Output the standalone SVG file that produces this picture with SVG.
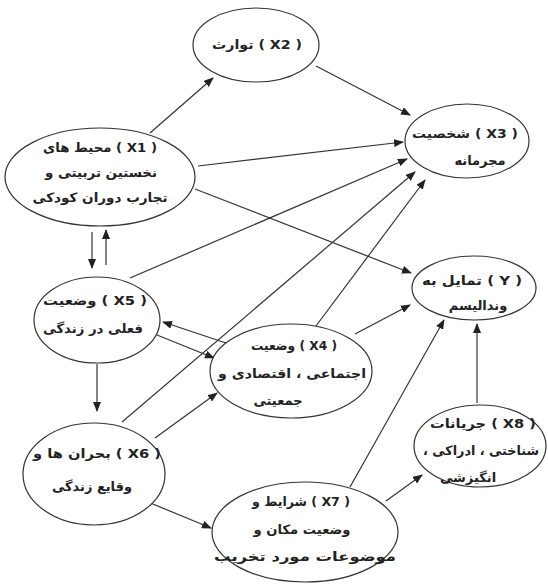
<svg xmlns="http://www.w3.org/2000/svg" width="548" height="587" viewBox="0 0 548 587">
<style>
.n{fill:#fff;stroke:#333;stroke-width:1.2}
.t{font-family:"DejaVu Sans","Noto Sans",sans-serif;font-size:13px;font-weight:bold;fill:#222;text-anchor:middle;direction:rtl}
.c line{stroke:#333;stroke-width:1.2;marker-end:url(#ah)}
</style>
<defs>
<marker id="ah" viewBox="0 0 10 8" refX="9" refY="4" markerWidth="10" markerHeight="8" markerUnits="userSpaceOnUse" orient="auto">
<path d="M0,0 L10,4 L0,8 z" fill="#222"/>
</marker>
</defs>
<rect width="548" height="587" fill="#fff"/>
<g id="connectors" class="c">
<line x1="150" y1="133" x2="213" y2="78"/>
<line x1="316" y1="66" x2="410" y2="115"/>
<line x1="198" y1="166" x2="403" y2="142"/>
<line x1="195" y1="189" x2="411" y2="273"/>
<line x1="130" y1="278" x2="407" y2="159"/>
<line x1="122" y1="422" x2="415" y2="172"/>
<line x1="316" y1="326" x2="425" y2="180"/>
<line x1="355" y1="334" x2="410" y2="305"/>
<line x1="226" y1="343" x2="163" y2="322"/>
<line x1="157" y1="335" x2="214" y2="358"/>
<line x1="92" y1="232" x2="92" y2="268"/>
<line x1="106" y1="265" x2="106" y2="230"/>
<line x1="97" y1="364" x2="97" y2="411"/>
<line x1="155" y1="438" x2="217" y2="393"/>
<line x1="148" y1="502" x2="211" y2="528"/>
<line x1="350" y1="487" x2="444" y2="320"/>
<line x1="386" y1="501" x2="422" y2="475"/>
<line x1="477" y1="403" x2="477" y2="324"/>
</g>
<g id="X2"><ellipse class="n" cx="256" cy="45" rx="63" ry="37"/>
<text class="t" x="257" y="49" textLength="90" lengthAdjust="spacingAndGlyphs">( X2 ) توارث</text></g>
<g id="X1"><ellipse class="n" cx="100" cy="177" rx="95" ry="49"/>
<text class="t" x="100" y="152" textLength="114" lengthAdjust="spacingAndGlyphs">( X1 ) محیط های</text>
<text class="t" x="101" y="177" textLength="112" lengthAdjust="spacingAndGlyphs">نخستین تربیتی و</text>
<text class="t" x="100" y="202" textLength="135" lengthAdjust="spacingAndGlyphs">تجارب دوران کودکی</text></g>
<g id="X3"><ellipse class="n" cx="467" cy="141" rx="62" ry="37"/>
<text class="t" x="465" y="138" textLength="106" lengthAdjust="spacingAndGlyphs">( X3 ) شخصیت</text>
<text class="t" x="480" y="165">مجرمانه</text></g>
<g id="Y"><ellipse class="n" cx="474" cy="288" rx="62" ry="32"/>
<text class="t" x="472" y="285" textLength="100" lengthAdjust="spacingAndGlyphs">( Y ) تمایل به</text>
<text class="t" x="478" y="310">وندالیسم</text></g>
<g id="X5"><ellipse class="n" cx="97" cy="320" rx="63" ry="43"/>
<text class="t" x="95" y="305" textLength="104" lengthAdjust="spacingAndGlyphs">( X5 ) وضعیت</text>
<text class="t" x="93" y="333" textLength="100" lengthAdjust="spacingAndGlyphs">فعلی در زندگی</text></g>
<g id="X4"><ellipse class="n" cx="291" cy="371" rx="81" ry="47"/>
<text class="t" x="294" y="350" textLength="86" lengthAdjust="spacingAndGlyphs">( X4 ) وضعیت</text>
<text class="t" x="292" y="378" textLength="148" lengthAdjust="spacingAndGlyphs">اجتماعی ، اقتصادی و</text>
<text class="t" x="278" y="405">جمعیتی</text></g>
<g id="X8"><ellipse class="n" cx="480" cy="446" rx="66" ry="41"/>
<text class="t" x="483" y="428" textLength="106" lengthAdjust="spacingAndGlyphs">( X8 ) جریانات</text>
<text class="t" x="481" y="455" textLength="116" lengthAdjust="spacingAndGlyphs">شناختی ، ادراکی ،</text>
<text class="t" x="468" y="482">انگیزشی</text></g>
<g id="X6"><ellipse class="n" cx="94" cy="474" rx="71" ry="51"/>
<text class="t" x="97" y="458" textLength="128" lengthAdjust="spacingAndGlyphs">( X6 ) بحران ها و</text>
<text class="t" x="92" y="491" textLength="80" lengthAdjust="spacingAndGlyphs">وقایع زندگی</text></g>
<g id="X7"><ellipse class="n" cx="305" cy="532" rx="93" ry="50"/>
<text class="t" x="301" y="506" textLength="98" lengthAdjust="spacingAndGlyphs">( X7 ) شرایط و</text>
<text class="t" x="302" y="534" textLength="97" lengthAdjust="spacingAndGlyphs">وضعیت مکان و</text>
<text class="t" x="305" y="561" textLength="182" lengthAdjust="spacingAndGlyphs">موضوعات مورد تخریب</text></g>
</svg>
